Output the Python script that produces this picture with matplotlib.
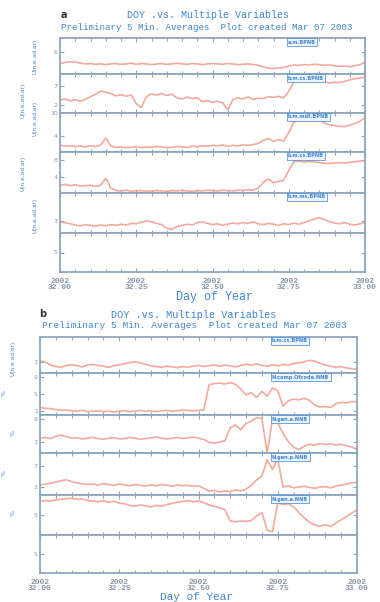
# DOY vs multiple variables, two stacked panels (a, b) of 5-min averages
import numpy as np
import matplotlib
matplotlib.use('Agg')
import matplotlib.pyplot as plt
from matplotlib.ticker import MultipleLocator

W, H = 380, 602
LINE = '#f29a8a'
SPINE = '#8ea6bc'
BLUE = '#3f86d2'
TICK = '#8796ab'
MONO = 'Liberation Mono'

# sample grid, day of year 32.00 .. 33.00
doy = np.linspace(32.0, 33.0, 61)
xtick_pos = [32.0, 32.25, 32.5, 32.75, 33.0]
xtick_lab = ['2002\n32.00', '2002\n32.25', '2002\n32.50', '2002\n32.75', '2002\n33.00']

# panel a series
a1 = [2.9, 3.2, 3.4, 3.3, 3.0, 2.8, 2.9, 2.7, 2.8, 2.6,
      2.8, 2.9, 2.7, 2.8, 3.0, 2.7, 2.9, 2.8, 2.6, 2.8,
      2.9, 2.7, 2.8, 3.0, 2.8, 2.7, 2.9, 2.8, 2.6, 2.8,
      2.9, 2.8, 2.7, 2.9, 2.8, 2.6, 2.7, 2.8, 2.6, 2.4,
      2.0, 1.6, 1.5, 1.7, 1.8, 2.2, 2.5, 2.4, 2.6, 2.5,
      2.7, 2.6, 2.4, 2.5, 2.3, 2.1, 2.2, 2.0, 2.3, 2.6,
      3.3]
a2 = [3.3, 3.6, 3.1, 3.4, 3.0, 3.5, 4.2, 4.8, 5.6, 5.3,
      5.0, 4.4, 4.7, 4.3, 4.6, 2.4, 1.4, 4.2, 4.9, 4.6,
      5.0, 4.5, 4.8, 3.9, 3.6, 4.1, 3.7, 3.9, 2.9, 3.2,
      2.7, 3.0, 2.6, 0.8, 3.4, 3.9, 3.6, 4.1, 3.5, 3.8,
      3.7, 4.2, 4.0, 4.3, 3.9, 5.5, 8.0, 9.3, 9.6, 9.4,
      9.5, 9.2, 8.0, 7.7, 7.9, 7.8, 8.1, 8.5, 8.8, 9.0,
      9.2]
a3 = [1.7, 1.5, 1.6, 1.4, 1.5, 1.3, 1.6, 1.4, 1.8, 3.6,
      1.5, 1.2, 1.3, 1.1, 1.2, 1.4, 1.1, 1.3, 1.2, 1.4,
      1.3, 1.1, 1.2, 1.4, 1.3, 1.2, 1.5, 1.3, 1.6, 1.5,
      1.7, 1.6, 1.8, 1.5, 1.7, 1.6, 1.8, 1.7, 1.9, 2.2,
      3.0, 3.4, 2.7, 3.2, 2.8, 5.0, 7.6, 8.5, 8.9, 8.7,
      8.6, 8.3, 7.4, 7.0, 6.8, 6.6, 6.5, 6.9, 7.3, 7.9,
      8.8]
a4 = [1.9, 2.1, 1.8, 2.0, 1.7, 1.8, 1.9, 1.6, 1.9, 3.6,
      1.2, 0.6, 0.5, 0.7, 0.4, 0.5, 0.6, 0.4, 0.5, 0.6,
      0.5, 0.4, 0.6, 0.5, 0.7, 0.5, 0.4, 0.6, 0.5, 0.7,
      0.6, 0.5, 0.7, 0.6, 0.5, 0.7, 0.6, 0.8, 0.7, 1.2,
      2.6, 3.4, 2.5, 2.8, 3.1, 5.5, 7.6, 7.8, 7.5, 7.7,
      7.6, 7.4, 7.3, 7.2, 7.3, 7.4, 7.3, 7.5, 7.6, 7.8,
      7.9]
a5 = [2.8, 2.6, 2.3, 2.0, 1.8, 2.1, 1.9, 1.7, 2.0, 1.8,
      2.1, 1.9, 2.2, 2.0, 2.4, 2.3, 2.7, 3.0, 2.8, 2.4,
      2.1, 1.2, 0.9, 1.6, 1.9, 2.2, 2.0, 2.6, 2.8, 2.4,
      2.1, 2.3, 1.9, 2.2, 2.5, 2.3, 2.6, 2.4, 2.8, 2.3,
      2.1, 2.4, 2.2, 1.9, 2.3, 2.1, 2.5, 2.2, 2.6, 3.0,
      3.5, 3.8, 3.4, 2.8, 2.5, 2.3, 2.6, 2.2, 2.0, 2.3,
      2.6]

# panel b series
b1 = [3.4, 3.0, 2.2, 1.8, 1.6, 2.1, 2.3, 2.0, 1.7, 2.2,
      2.4, 2.1, 1.9, 1.6, 2.0, 2.3, 2.6, 2.9, 3.1, 2.8,
      2.4, 2.0, 1.8, 1.6, 1.9, 1.7, 1.5, 1.8, 1.6, 1.9,
      2.1, 1.8, 2.0, 2.3, 1.9, 2.2, 2.0, 1.7, 2.1, 2.4,
      2.2, 2.5, 2.1, 1.9, 2.3, 2.0, 2.4, 2.2, 2.6, 2.8,
      3.1, 3.5, 3.3, 2.7, 2.2, 1.9, 1.6, 1.8, 1.4, 1.2,
      1.0]
b2 = [1.8, 1.6, 1.5, 1.3, 1.1, 1.2, 1.0, 0.9, 1.1, 0.8,
      0.9, 1.0, 0.8, 0.9, 0.7, 0.9, 1.0, 0.8, 0.9, 1.1,
      0.9, 1.0, 0.8, 1.0, 1.1, 0.9, 1.0, 1.2, 1.1, 1.0,
      1.1, 1.2, 7.2, 7.5, 7.6, 7.4, 7.7, 7.3, 6.2, 4.8,
      5.3, 4.2, 5.6, 4.5, 6.4, 5.8, 2.1, 3.4, 3.8, 3.6,
      4.0, 3.5, 2.4, 1.9, 2.0, 1.8, 2.7, 3.0, 2.9, 3.2,
      3.1]
b3 = [3.9, 4.1, 3.8, 4.4, 4.7, 4.3, 3.9, 4.0, 3.7, 3.9,
      4.1, 3.8, 3.6, 3.9, 4.0, 3.7, 3.8, 4.1, 3.9, 3.6,
      3.8, 4.0, 4.2, 3.9, 3.7, 3.9, 4.1, 3.8, 4.0, 4.2,
      3.9, 3.6, 2.8, 2.6, 2.9, 3.2, 6.6, 7.4, 6.1, 7.8,
      8.4, 9.3, 9.1, 0.0, 8.8, 7.9, 5.2, 3.0, 1.5, 0.9,
      1.8, 2.3, 2.1, 2.5, 2.2, 2.4, 2.1, 2.3, 1.9, 1.6,
      0.9]
b4 = [2.4, 2.6, 2.8, 3.1, 3.4, 3.6, 3.2, 2.9, 2.7, 2.5,
      2.6, 2.4, 2.7, 2.5, 2.3, 2.6, 2.4, 2.2, 2.5, 2.3,
      2.1, 2.4, 2.2, 2.5, 2.3, 2.1, 2.4, 2.2, 2.3, 2.1,
      2.2, 1.6, 0.9, 1.1, 0.7, 1.0, 0.8, 1.2, 1.0, 1.4,
      2.3, 3.6, 4.5, 8.4, 6.1, 8.6, 1.9, 2.2, 1.7, 1.9,
      2.1, 1.8, 1.6, 1.9, 2.0, 1.7, 2.1, 2.4, 2.6, 2.9,
      3.0]
b5 = [8.4, 8.6, 8.5, 8.8, 8.9, 9.1, 9.2, 8.9, 9.0, 8.6,
      8.5, 8.3, 8.6, 8.2, 8.4, 8.0, 7.8, 7.4, 7.2, 7.5,
      7.3, 7.0, 7.4, 7.2, 7.6, 7.9, 8.2, 8.4, 8.6, 8.3,
      8.5, 8.1, 7.5, 7.2, 6.8, 6.3, 3.5, 3.3, 3.5, 3.4,
      3.6, 4.8, 5.6, 1.2, 0.8, 8.0, 7.6, 7.8, 7.1, 5.6,
      4.3, 3.2, 2.5, 2.2, 2.6, 2.1, 3.0, 3.8, 4.6, 5.5,
      6.3]
b6_doy = [32.35, 33.0]
b6_val = [0.0, 0.0]

a_ticks = [[6], [7, 2], [10, 4], [8, 4], [3], [5]]
b_ticks = [[3], [9, 5, 1], [9, 3], [7, 2], [5], [5]]
a_tags = ['a.m.BPNB', 'b.m.cs.BPNB', 'b.m.mdt.BPNB', 'b.m.cs.BPNB', 'b.m.ms.BPNB', None]
b_tags = ['b.m.cs.BPNB', 'N.comp.Ofcode.NNB', 'N.gen.a.NNB', 'N.gen.p.NNB', 'N.gen.a.NNB', None]

fig = plt.figure(figsize=(W / 100, H / 100), dpi=100)


def fx(x):
    return x / W


def fy(y):
    return 1 - y / H


def panel(left, right, rows, series, ticks, tags, tagx):
    axes = []
    for i, (top, bot) in enumerate(rows):
        ax = fig.add_axes([fx(left), fy(bot), fx(right - left), (bot - top) / H])
        ax.set_xlim(32.0, 33.0)
        ax.set_ylim(0, 10)
        s = series[i]
        if s is not None:
            ax.plot(s[0], s[1], color=LINE, lw=1.2, alpha=0.85)
        for sp in ax.spines.values():
            sp.set_color(SPINE)
            sp.set_linewidth(1.3)
        ax.xaxis.set_major_locator(MultipleLocator(0.25))
        ax.xaxis.set_minor_locator(MultipleLocator(0.05))
        ax.tick_params(axis='both', which='both', direction='in', top=True, right=True,
                       color=SPINE, width=0.8)
        ax.tick_params(which='major', length=3)
        ax.tick_params(which='minor', length=2)
        ax.set_yticks(ticks[i], [str(t) for t in ticks[i]])
        ax.tick_params(axis='y', labelsize=4.5, labelcolor=TICK, pad=1.5)
        if i < len(rows) - 1:
            ax.set_xticklabels([])
        else:
            ax.set_xticks(xtick_pos, xtick_lab)
            for lab in ax.get_xticklabels():
                lab.set_fontfamily(MONO)
                lab.set_fontweight('bold')
                lab.set_fontsize(5.8)
                lab.set_color(TICK)
                lab.set_linespacing(0.9)
            ax.tick_params(axis='x', pad=4)
        if tags[i]:
            fig.text(fx(tagx), fy(top + 4), tags[i], fontsize=3.6, color=BLUE,
                     fontweight='bold', ha='left', va='center',
                     bbox=dict(boxstyle='square,pad=0.25', fc='#eef4fb', ec=BLUE, lw=0.5))
        axes.append(ax)
    return axes


a_rows = [(38, 74), (74, 113), (113, 152), (152, 193), (193, 233), (233, 272)]
b_rows = [(337, 373), (373, 415), (415, 453), (453, 495), (495, 535), (535, 573)]

a_series = [(doy, a1), (doy, a2), (doy, a3), (doy, a4), (doy, a5), None]
b_series = [(doy, b1), (doy, b2), (doy, b3), (doy, b4), (doy, b5), (b6_doy, b6_val)]

panel(60, 365, a_rows, a_series, a_ticks, a_tags, 288)
panel(40, 357, b_rows, b_series, b_ticks, b_tags, 272)

# titles
fig.text(fx(61), fy(15), 'a', fontsize=7, fontweight='bold', color='#333333', ha='left', va='center')
fig.text(fx(208), fy(15), 'DOY .vs. Multiple Variables', family=MONO, fontsize=7.2,
         color=BLUE, ha='center', va='center')
fig.text(fx(207), fy(27), 'Preliminary 5 Min. Averages  Plot created Mar 07 2003', family=MONO,
         fontsize=6.6, color=BLUE, ha='center', va='center')
fig.text(fx(214), fy(297), 'Day of Year', family=MONO, fontsize=8.5, color=BLUE,
         ha='center', va='center')

fig.text(fx(39), fy(314), 'b', fontsize=7, fontweight='bold', color='#333333', ha='left', va='center')
fig.text(fx(194), fy(315), 'DOY .vs. Multiple Variables', family=MONO, fontsize=7.4,
         color=BLUE, ha='center', va='center')
fig.text(fx(194), fy(326), 'Preliminary 5 Min. Averages  Plot created Mar 07 2003', family=MONO,
         fontsize=6.8, color=BLUE, ha='center', va='center')
fig.text(fx(196), fy(597), 'Day of Year', family=MONO, fontsize=8, color=BLUE,
         ha='center', va='center')

# rotated axis labels on the left
for x, y, t in [(35, 56, 'U(n.e.ad.ar)'), (23, 100, 'U(n.e.ad.ar)'), (35, 118, 'U(n.e.ad.ar)'),
                (23, 173, 'U(n.e.ad.ar)'), (35, 215, 'U(n.e.ad.ar)')]:
    fig.text(fx(x), fy(y), t, fontsize=4.2, color=BLUE, rotation=90, ha='center', va='center')
fig.text(fx(13), fy(358), 'U(n.e.ad.ar)', fontsize=4.2, color=BLUE, rotation=90,
         ha='center', va='center')
for x, y in [(4, 393), (13, 433), (4, 473), (13, 513)]:
    fig.text(fx(x), fy(y), '%', fontsize=4.5, color=BLUE, rotation=90, ha='center', va='center')

fig.savefig('out.png', dpi=100, facecolor='white')
